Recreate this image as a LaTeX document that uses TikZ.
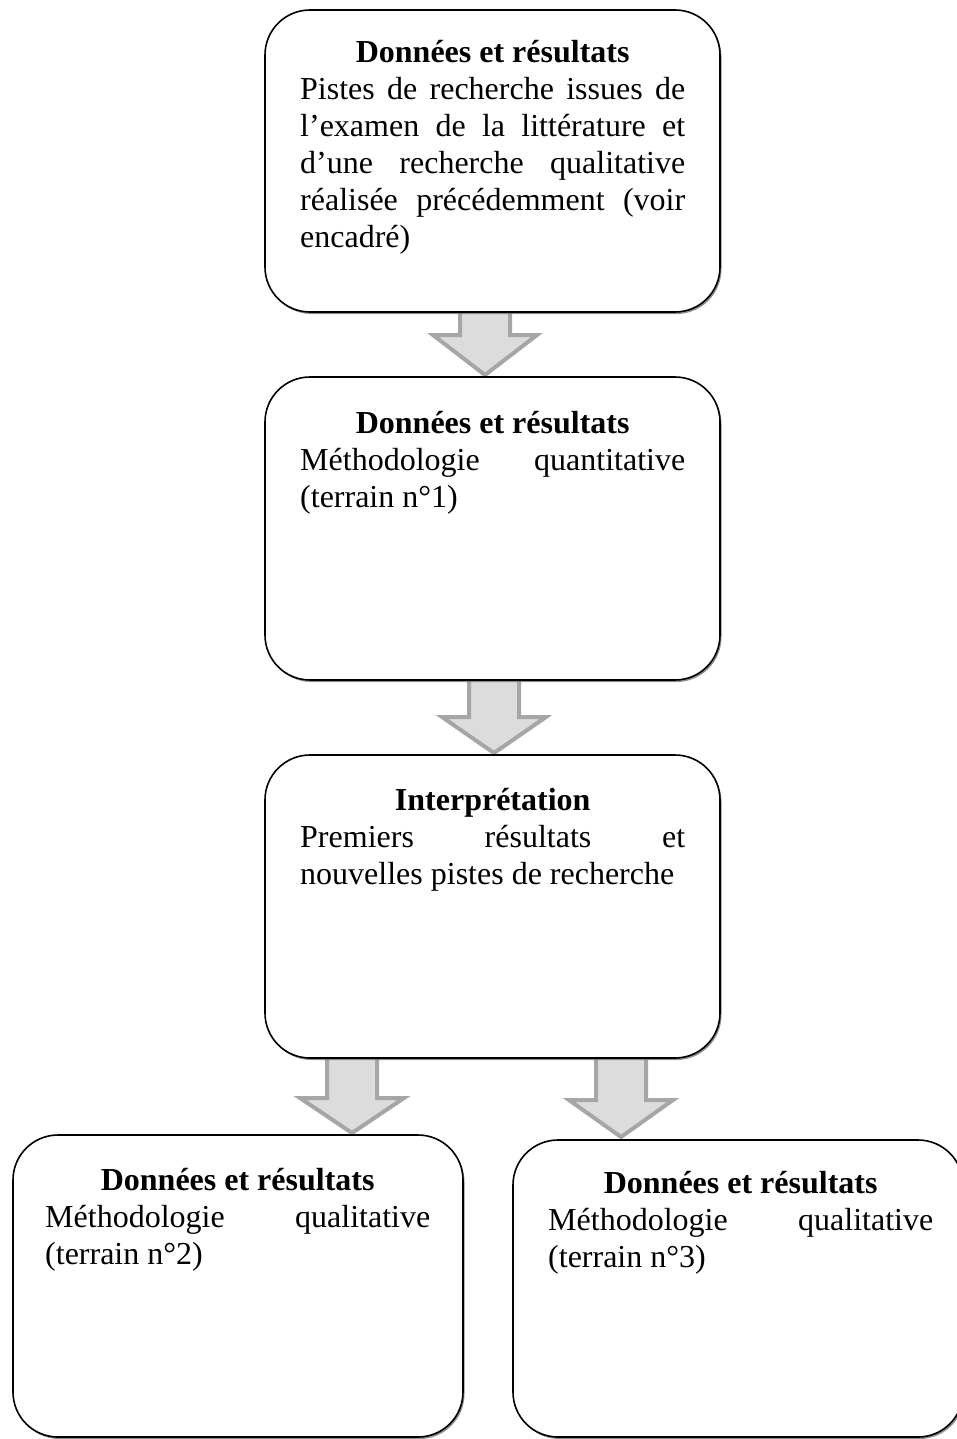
\documentclass[tikz,border=0pt]{standalone}
\usepackage{fontspec}
\setmainfont{Liberation Serif}
\usetikzlibrary{shadows,calc}
\definecolor{arrfill}{HTML}{DCDCDC}
\definecolor{arrline}{HTML}{A6A6A6}
\newcommand{\myjline}[1]{\makebox[\linewidth][s]{#1}\par}
\newcommand{\mylastline}[1]{\makebox[\linewidth][l]{#1}\par}
\newcommand{\mytitleline}[1]{\makebox[\linewidth][c]{\bfseries #1}\par}
\newcommand{\blockarr}[5]{% name, cx, top y, head start y, tip y
  \coordinate (#1s) at (#2,-#3);
  \coordinate (#1t) at (#2,-#5);
  \draw[barrow] ($(#1s)+(-25,0)$) -- ($(#1s)+(-25,#3-#4)$) -- ($(#1s)+(-52,#3-#4)$)
    -- (#1t) -- ($(#1s)+(52,#3-#4)$) -- ($(#1s)+(25,#3-#4)$) -- ($(#1s)+(25,0)$) -- cycle;}
\begin{document}
\begin{tikzpicture}[x=1pt,y=1pt,
  box/.style={draw=black, line width=1.6pt, fill=white, rounded corners=45pt,
    drop shadow={shadow xshift=1.5pt, shadow yshift=-2pt, fill=black!55, opacity=0.8}},
  txt/.style={inner sep=0pt, anchor=base west, font=\fontsize{32}{37}\selectfont},
  barrow/.style={draw=arrline, fill=arrfill, line width=4pt, line join=miter}]
\useasboundingbox (0,0) rectangle (957,-1439);
\clip (0,0) rectangle (957,-1439);
% arrows (behind boxes)
\blockarr{a1}{485}{305}{335}{375}
\blockarr{a2}{494}{675}{717}{753}
\blockarr{a3}{352}{1052}{1098}{1133}
\blockarr{a4}{621}{1052}{1100}{1137}
% boxes
\node[box, minimum width=455pt, minimum height=302pt] (b1) at (492.5,-161) {};
\node[box, minimum width=455pt, minimum height=303pt] (b2) at (492.5,-528.5) {};
\node[box, minimum width=455pt, minimum height=303pt] (b3) at (492.5,-906.5) {};
\node[box, minimum width=450pt, minimum height=302pt] (b4) at (238,-1286) {};
\node[box, minimum width=450pt, minimum height=297pt] (b5) at (738,-1288.5) {};
% texts
\node[txt] (t1) at (300,-63) {\parbox[t]{385pt}{\setlength{\parindent}{0pt}\fontsize{32}{37}\selectfont
  \mytitleline{Données et résultats}
  \myjline{Pistes de recherche issues de}
  \myjline{l’examen de la littérature et}
  \myjline{d’une recherche qualitative}
  \myjline{réalisée précédemment (voir}
  \mylastline{encadré)}}};
\node[txt] (t2) at (300,-433) {\parbox[t]{385pt}{\setlength{\parindent}{0pt}\fontsize{32}{37}\selectfont
  \mytitleline{Données et résultats}
  \myjline{Méthodologie quantitative}
  \mylastline{(terrain n°1)}}};
\node[txt] (t3) at (300,-810) {\parbox[t]{385pt}{\setlength{\parindent}{0pt}\fontsize{32}{37}\selectfont
  \mytitleline{Interprétation}
  \myjline{Premiers résultats et}
  \mylastline{nouvelles pistes de recherche}}};
\node[txt] (t4) at (45,-1190) {\parbox[t]{385pt}{\setlength{\parindent}{0pt}\fontsize{32}{37}\selectfont
  \mytitleline{Données et résultats}
  \myjline{Méthodologie qualitative}
  \mylastline{(terrain n°2)}}};
\node[txt] (t5) at (548,-1193) {\parbox[t]{385pt}{\setlength{\parindent}{0pt}\fontsize{32}{37}\selectfont
  \mytitleline{Données et résultats}
  \myjline{Méthodologie qualitative}
  \mylastline{(terrain n°3)}}};
\end{tikzpicture}
\end{document}
